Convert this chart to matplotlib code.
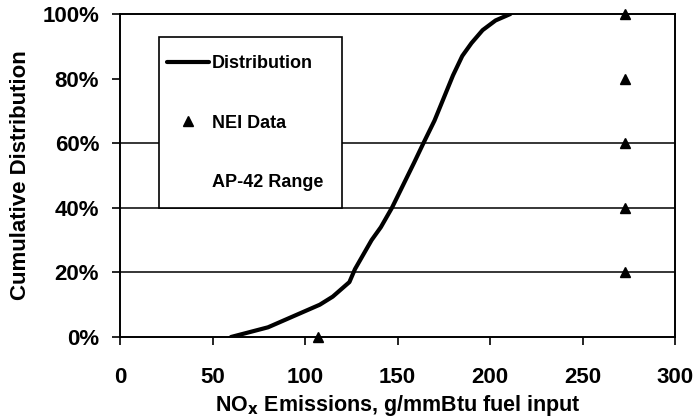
import matplotlib
matplotlib.use("Agg")
import matplotlib.pyplot as plt
from matplotlib.patches import Rectangle

plt.rcParams['font.family'] = ['Liberation Sans', 'DejaVu Sans']
plt.rcParams['font.weight'] = 'bold'

# distribution curve
dist_x = [60, 70, 80, 90, 100, 108, 115, 120, 124, 127, 131, 136, 141, 147,
          153, 159, 164, 170, 175, 180, 185, 190, 196, 203, 211]
dist_y = [0, 1.5, 3, 5.5, 8, 10, 12.5, 15, 17, 21, 25, 30, 34, 40,
          47, 54, 60, 67, 74, 81, 87, 91, 95, 98, 100]

# NEI data points
nei_x = [107, 273, 273, 273, 273, 273]
nei_y = [0, 20, 40, 60, 80, 100]

y_ticks = [0, 20, 40, 60, 80, 100]
x_ticks = [0, 50, 100, 150, 200, 250, 300]

fig = plt.figure(figsize=(6.99, 4.2), dpi=100)
ax = fig.add_axes([120/699, 1-337/420, 555/699, 323/420])

# only these gridlines show in the original
for level in [20, 40, 60]:
    ax.axhline(level, color='black', lw=1.1, zorder=1)

ax.plot(dist_x, dist_y, color='black', lw=3, solid_capstyle='round',
        label='Distribution', zorder=3)
ax.plot(nei_x, nei_y, linestyle='none', marker='^', color='black',
        markersize=7, label='NEI Data', zorder=4, clip_on=False)
ax.plot([], [], color='none', label='AP-42 Range')

ax.set_xlim(0, 300)
ax.set_ylim(0, 100)
ax.set_xticks(x_ticks)
ax.set_yticks(y_ticks)
ax.set_yticklabels([f'{v}%' for v in y_ticks])
ax.tick_params(axis='both', direction='out', length=6, width=1.2,
               labelsize=16)
ax.tick_params(axis='x', pad=15.5)
ax.tick_params(axis='y', pad=9)
for sp in ax.spines.values():
    sp.set_linewidth(1.4)

ax.set_xlabel(r'NO$_\mathbf{x}$ Emissions, g/mmBtu fuel input', fontsize=15.5,
              fontweight='bold', labelpad=4)
ax.set_ylabel('Cumulative Distribution', fontsize=16, fontweight='bold',
              labelpad=8)

# legend box drawn separately so its size matches the original
ax.add_patch(Rectangle((0.07, 0.40), 0.33, 0.529, transform=ax.transAxes,
                       facecolor='white', edgecolor='black', lw=1.2, zorder=5))
leg = ax.legend(loc='upper left', bbox_to_anchor=(0.084, 0.872),
                fontsize=13, frameon=False, labelspacing=2.35,
                handlelength=2.35, handletextpad=0.15, borderpad=0,
                borderaxespad=0)
leg.set_zorder(6)

fig.savefig('out.png', dpi=100)
